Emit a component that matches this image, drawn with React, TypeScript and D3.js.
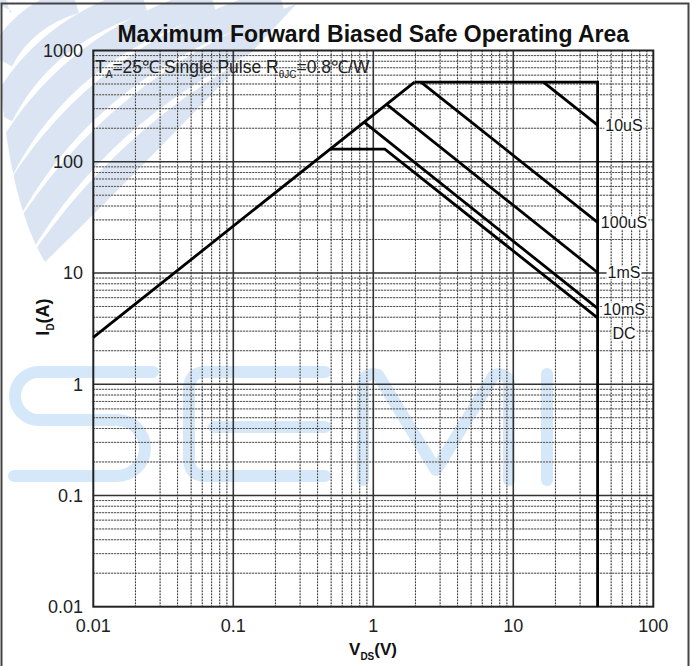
import React, { useRef, useEffect } from 'react';
import * as d3 from 'd3';

// Axis domains and tick labels
const xDomain = [0.01, 100];
const yDomain = [0.01, 1000];
const xTickValues = [0.01, 0.1, 1, 10, 100];
const xTickLabels = ['0.01', '0.1', '1', '10', '100'];
const yTickValues = [0.01, 0.1, 1, 10, 100, 1000];
const yTickLabels = ['0.01', '0.1', '1', '10', '100', '1000'];

// RDS(on) limit line
const rdsV = [0.01, 1.97];
const rdsI = [2.64, 520];
// Current limit + VDS limit boundary
const boundV = [1.97, 40, 40];
const boundI = [520, 520, 0.01];

// Pulse-width curves
const curveNames = ['10uS', '100uS', '1mS', '10mS', 'DC'];
const curveV = [
  [16.4, 40],
  [2.19, 40],
  [1.246, 40],
  [0.86, 40],
  [0.49, 1.21, 40],
];
const curveI = [
  [520, 213],
  [520, 28.5],
  [328, 10.1],
  [227, 4.8],
  [130, 130, 3.95],
];
// Where each curve label sits (current value at the right edge)
const labelI = [213, 28.5, 10.1, 4.75, 2.86];

const FONT = "'Liberation Sans', Arial, Helvetica, sans-serif";

export default function App() {
  const ref = useRef<SVGSVGElement>(null);

  useEffect(() => {
    const svg = d3.select(ref.current as SVGSVGElement);
    svg.selectAll('*').remove();
    const W = 694, H = 666;
    const x = d3.scaleLog().domain(xDomain).range([93.3, 653.3]);
    const y = d3.scaleLog().domain(yDomain).range([606.7, 50.5]);
    const [x0, x1] = x.range();
    const [y1, y0] = y.range();

    svg.append('rect').attr('width', W).attr('height', H).attr('fill', '#fff');

    // ---------- watermark ----------
    const defs = svg.append('defs');
    defs.append('clipPath').attr('id', 'leaf')
      .append('path')
      .attr('d', 'M0 0 L300 0 Q190 120 45 262 Q8 200 0 70 Z');
    const wm = svg.append('g').attr('clip-path', 'url(#leaf)');
    [5, 60, 115, 170, 225, 280, 335].forEach((c) => {
      wm.append('path')
        .attr('d', `M0 ${c} Q${c * 0.38} ${c * 0.26} ${c * 1.25} 0`)
        .attr('fill', 'none')
        .attr('stroke', '#dae4f2')
        .attr('stroke-width', 27);
    });
    const semi = svg.append('g')
      .attr('fill', 'none')
      .attr('stroke', '#d5e8f9')
      .attr('stroke-width', 12)
      .attr('stroke-linecap', 'round')
      .attr('stroke-linejoin', 'round');
    semi.append('path').attr('d',
      'M153 372 L39 372 A24 24 0 0 0 39 420 L117 420 A28 28 0 0 1 117 476 L14 476');
    semi.append('path').attr('d',
      'M325 372 L205 372 Q189 372 189 390 L189 458 Q189 476 205 476 L325 476 M214 427 L325 427');
    semi.append('path').attr('d',
      'M363 480 L363 386 Q363 371 378 375 L436 470 L494 375 Q509 371 509 386 L509 480');
    semi.append('path').attr('d', 'M547 374 L547 480');

    // ---------- grid ----------
    const isDecade = (v: number) => Math.abs(Math.log10(v) - Math.round(Math.log10(v))) < 1e-6;
    const xt = x.ticks();
    const yt = y.ticks();
    const grid = svg.append('g');
    const minorX = xt.filter((v) => !isDecade(v));
    const minorY = yt.filter((v) => !isDecade(v));
    const majorX = xt.filter((v) => isDecade(v) && v > xDomain[0] && v < xDomain[1]);
    const majorY = yt.filter((v) => isDecade(v) && v > yDomain[0] && v < yDomain[1]);

    grid.selectAll('.mxl').data(minorX).join('line')
      .attr('x1', (d) => x(d)).attr('x2', (d) => x(d)).attr('y1', y0).attr('y2', y1)
      .attr('stroke', '#c8c8c8').attr('stroke-width', 1);
    grid.selectAll('.myl').data(minorY).join('line')
      .attr('y1', (d) => y(d)).attr('y2', (d) => y(d)).attr('x1', x0).attr('x2', x1)
      .attr('stroke', '#c8c8c8').attr('stroke-width', 1);
    grid.selectAll('.mxd').data(minorX).join('line')
      .attr('x1', (d) => x(d)).attr('x2', (d) => x(d)).attr('y1', y0).attr('y2', y1)
      .attr('stroke', '#333').attr('stroke-width', 1).attr('stroke-dasharray', '1.5,1.5');
    grid.selectAll('.myd').data(minorY).join('line')
      .attr('y1', (d) => y(d)).attr('y2', (d) => y(d)).attr('x1', x0).attr('x2', x1)
      .attr('stroke', '#333').attr('stroke-width', 1).attr('stroke-dasharray', '1.5,1.5');
    grid.selectAll('.MX').data(majorX).join('line')
      .attr('x1', (d) => x(d)).attr('x2', (d) => x(d)).attr('y1', y0).attr('y2', y1)
      .attr('stroke', '#333').attr('stroke-width', 1.6);
    grid.selectAll('.MY').data(majorY).join('line')
      .attr('y1', (d) => y(d)).attr('y2', (d) => y(d)).attr('x1', x0).attr('x2', x1)
      .attr('stroke', '#333').attr('stroke-width', 1.6);

    svg.append('rect')
      .attr('x', x0).attr('y', y0).attr('width', x1 - x0).attr('height', y1 - y0)
      .attr('fill', 'none').attr('stroke', '#222').attr('stroke-width', 2);

    // ---------- data ----------
    const line = d3.line<[number, number]>().x((d) => x(d[0])).y((d) => y(d[1]));
    const dataG = svg.append('g').attr('fill', 'none').attr('stroke', '#000')
      .attr('stroke-width', 2.8).attr('stroke-linejoin', 'miter');
    dataG.append('path').attr('d', line(rdsV.map((v, i) => [v, rdsI[i]]) as [number, number][]));
    dataG.append('path').attr('d', line(boundV.map((v, i) => [v, boundI[i]]) as [number, number][]));
    curveV.forEach((vs, k) => {
      dataG.append('path').attr('d', line(vs.map((v, i) => [v, curveI[k][i]]) as [number, number][]));
    });

    // curve labels
    const lab = svg.append('g');
    curveNames.forEach((name, k) => {
      const g = lab.append('g');
      const t = g.append('text')
        .attr('x', 624).attr('y', y(labelI[k]))
        .attr('dy', '0.36em')
        .attr('text-anchor', 'middle')
        .attr('font-family', FONT).attr('font-size', 16).attr('fill', '#1a1a1a')
        .text(name);
      const bb = (t.node() as SVGTextElement).getBBox();
      g.insert('rect', 'text')
        .attr('x', bb.x - 1).attr('y', bb.y + 2).attr('width', bb.width + 2).attr('height', bb.height - 4)
        .attr('fill', '#fff');
    });

    // ---------- tick labels ----------
    svg.append('g').selectAll('text').data(xTickValues).join('text')
      .attr('x', (d) => x(d)).attr('y', 632)
      .attr('text-anchor', 'middle')
      .attr('font-family', FONT).attr('font-size', 18).attr('fill', '#222')
      .text((d, i) => xTickLabels[i]);
    svg.append('g').selectAll('text').data(yTickValues).join('text')
      .attr('x', 83).attr('y', (d) => y(d)).attr('dy', '0.36em')
      .attr('text-anchor', 'end')
      .attr('font-family', FONT).attr('font-size', 18).attr('fill', '#222')
      .text((d, i) => yTickLabels[i]);

    // ---------- titles ----------
    svg.append('text')
      .attr('x', (x0 + x1) / 2).attr('y', 42)
      .attr('text-anchor', 'middle')
      .attr('font-family', FONT).attr('font-size', 23).attr('font-weight', 'bold').attr('fill', '#111')
      .text('Maximum Forward Biased Safe Operating Area');

    const ann = svg.append('text')
      .attr('x', 95).attr('y', 73)
      .attr('font-family', FONT).attr('font-size', 17.5).attr('fill', '#222');
    ann.append('tspan').text('T');
    ann.append('tspan').attr('font-size', 10).attr('dy', 5).text('A');
    ann.append('tspan').attr('dy', -5).text('=25℃ Single Pulse R');
    ann.append('tspan').attr('font-size', 10).attr('dy', 5).text('θJC');
    ann.append('tspan').attr('dy', -5).text('=0.8℃/W');

    const xl = svg.append('text')
      .attr('x', 373).attr('y', 655)
      .attr('text-anchor', 'middle')
      .attr('font-family', FONT).attr('font-size', 17).attr('font-weight', 'bold').attr('fill', '#111');
    xl.append('tspan').text('V');
    xl.append('tspan').attr('font-size', 10).attr('dy', 5).text('DS');
    xl.append('tspan').attr('dy', -5).text('(V)');

    const yl = svg.append('text')
      .attr('transform', 'translate(49,317) rotate(-90)')
      .attr('text-anchor', 'middle')
      .attr('font-family', FONT).attr('font-size', 18).attr('font-weight', 'bold').attr('fill', '#111');
    yl.append('tspan').text('I');
    yl.append('tspan').attr('font-size', 10).attr('dy', 5).text('D');
    yl.append('tspan').attr('dy', -5).text('(A)');

    // ---------- outer frame ----------
    svg.append('path')
      .attr('d', 'M1.5 700 L1.5 3.5 L688.5 3.5 L688.5 700')
      .attr('fill', 'none').attr('stroke', '#444').attr('stroke-width', 2);
  }, []);

  return (
    <svg
      ref={ref}
      width={694}
      height={666}
      style={{ position: 'absolute', left: 0, top: 0, display: 'block' }}
    />
  );
}
